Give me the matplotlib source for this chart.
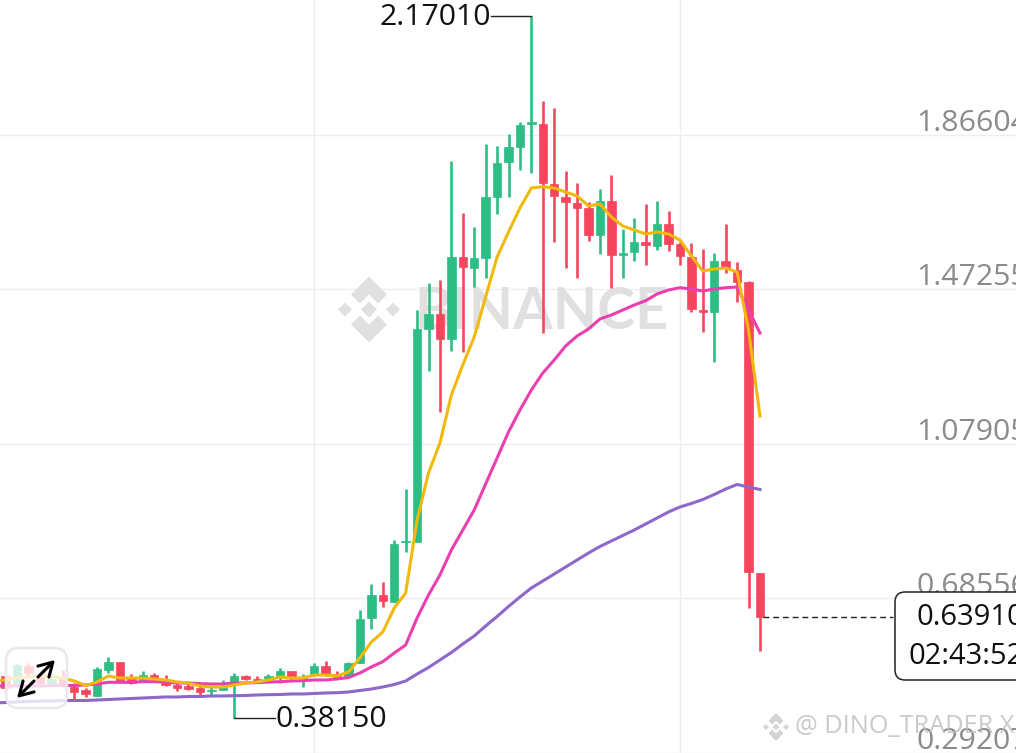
import matplotlib
matplotlib.use("Agg")
import matplotlib.pyplot as plt
from matplotlib.patches import FancyBboxPatch, Polygon
from matplotlib.transforms import Affine2D

# ---- data ----
opens = [.498,.4881,.4652,.5136,.4856,.4703,.4856,.4601,.4525,.4372,.5034,.5238,.4856,.4754,.4907,.4780,.4652,.4627,.4576,.4500,.4525,
         .4729,.4881,.4805,.4805,.4881,.5009,.4805,.4907,.5136,.4932,.4881,.5212,.6359,.6945,.6766,.8282,.8294,1.3720,1.4102,1.3465,1.5553,
         1.5273,1.5528,1.7081,1.7973,1.8355,1.8941,1.8941,1.7413,1.7081,1.6929,1.6801,1.6114,1.6980,1.5604,1.5681,1.5935,1.5833,1.6394,
         1.5884,1.5553,1.4203,1.4152,1.5451,1.5222,1.4917,.7505]
highs = [.50,.4881,.5187,.5212,.4983,.4907,.5034,.4703,.4576,.5111,.5365,.5250,.4932,.5009,.4958,.4907,.4703,.4678,.4627,.4627,.4780,
         .4958,.4907,.4881,.4932,.5085,.5009,.4932,.5212,.5263,.5009,.5238,.6562,.7225,.7276,.8345,.9644,1.4203,1.4891,1.4967,1.8000,1.6674,
         1.6317,1.8431,1.8380,1.8686,1.8992,2.1701,1.9527,1.9348,1.7744,1.7438,1.6954,1.7285,1.7642,1.6266,1.6547,1.6903,1.6980,1.6725,
         1.5935,1.5910,1.5757,1.5655,1.6394,1.5426,1.4942,.7505]
lows = [.47,.4525,.4627,.4907,.4678,.4678,.4601,.4296,.4347,.4372,.4958,.4729,.4678,.4729,.4729,.4627,.4500,.4525,.4372,.4372,.4525,
        .3815,.4780,.4703,.4703,.4703,.4780,.4601,.4881,.4881,.4856,.4856,.5212,.6079,.6638,.6766,.8039,.8294,1.2650,1.1606,1.3159,1.3134,
        1.4789,1.5018,1.6648,1.7081,1.7769,1.7693,1.3618,1.5935,1.5273,1.5018,1.5961,1.5630,1.4764,1.5018,1.5451,1.5350,1.5732,1.5706,
        1.5350,1.4152,1.3643,1.2879,1.5146,1.4407,.6613,.5518]
closes = [.478,.4576,.5161,.4958,.4703,.4805,.4627,.4474,.4423,.5060,.5238,.4729,.4703,.4907,.4780,.4652,.4576,.4550,.4474,.4525,.4627,
          .4881,.4805,.4754,.4881,.5009,.4830,.4856,.5136,.4932,.4856,.5212,.6333,.6945,.6792,.8243,.8320,1.3720,1.4102,1.3465,1.5553,1.5298,
          1.5528,1.7081,1.7947,1.8355,1.8915,1.8992,1.7438,1.7107,1.6954,1.6801,1.6114,1.6980,1.5604,1.5655,1.5935,1.5859,1.6394,1.5884,
          1.5579,1.4229,1.4152,1.5451,1.5273,1.4917,.7530,.6391]
ma_fast = [.4754,.4780,.4830,.4856,.4881,.4881,.4830,.4754,.4640,.4729,.4881,.4830,.4830,.4830,.4805,.4780,.4729,.4703,.4627,.4601,.4601,
           .4652,.4703,.4729,.4780,.4856,.4830,.4830,.4907,.4907,.4881,.4983,.5340,.5747,.6002,.6613,.6995,.8855,1.0052,1.0816,1.2039,1.2803,
           1.3516,1.4535,1.5553,1.6190,1.6801,1.7311,1.7344,1.7311,1.7209,1.7107,1.6852,1.6903,1.6572,1.6343,1.6241,1.6139,1.6190,1.6139,
           1.5986,1.5579,1.5197,1.5248,1.5273,1.5171,1.3694,1.1504]
ma_mid = [.4627,.4627,.4627,.4627,.4627,.4640,.4640,.4640,.4652,.4678,.4721,.4721,.4721,.4736,.4736,.4721,.4703,.4703,.4686,.4678,.4678,
          .4703,.4703,.4711,.4729,.4736,.4754,.4762,.4780,.4780,.4805,.4843,.4958,.5111,.5246,.5467,.5671,.6359,.6945,.7454,.8091,.8600,
          .9110,.9772,1.0434,1.1096,1.1657,1.2166,1.2599,1.2930,1.3287,1.3541,1.3720,1.3974,1.4076,1.4203,1.4331,1.4440,1.4611,1.4713,
          1.4771,1.4738,1.4687,1.4738,1.4771,1.4789,1.4203,1.3618]
ma_slow = [.4194,.4206,.4219,.4232,.4245,.4245,.4257,.4257,.4257,.4270,.4283,.4296,.4308,.4321,.4334,.4347,.4347,.4359,.4359,.4372,.4372,
           .4380,.4385,.4398,.4405,.4410,.4423,.4423,.4436,.4449,.4456,.4474,.4512,.4550,.4601,.4665,.4754,.4932,.5098,.5289,.5480,.5697,
           .5901,.6155,.6397,.6652,.6894,.7123,.7301,.7479,.7658,.7836,.8014,.8180,.8320,.8460,.8600,.8753,.8906,.9059,
           .9186,.9275,.9377,.9504,.9644,.9759,.9695,.9632]
y_ticks = [0.29207, 0.68556, 1.07905, 1.47255, 1.86604]
y_labels = ["0.29207", "0.68556", "1.07905", "1.47255", "1.86604"]
x_grid = [28, 60]
peak_label = "2.17010"
trough_label = "0.38150"
last_label = "0.63910"
countdown = "02:43:52"
credit = "@ DINO_TRADER X"

GREEN, RED = "#2EBD85", "#F6465D"
FONT = "Open Sans"
W, H = 1016, 753

fig = plt.figure(figsize=(W/100, H/100), dpi=100, facecolor="white")
ax = fig.add_axes([0, 0, 1, 1])
ax.set_xlim(0.51, 89.4)
ax.set_ylim(0.2920, 2.2099)
for s in ax.spines.values():
    s.set_visible(False)
px = Affine2D().scale(1/W, -1/H).translate(0, 1) + fig.transFigure

ax.set_xticks(x_grid, [""] * len(x_grid))
ax.set_yticks(y_ticks, y_labels)
ax.grid(True, color="#eeeeee", lw=1.0, zorder=0)
ax.set_axisbelow(True)
ax.tick_params(axis="both", length=0)
ax.tick_params(axis="y", pad=-660.0, labelsize=21.8, labelcolor="#8b8b8b")
for t in ax.get_yticklabels():
    t.set_fontfamily(FONT)
    t.set_ha("left")
    t.set_va("bottom")
    t.set_zorder(3)
    t.set_transform(t.get_transform() + Affine2D().translate(0, -3))

# Exchange watermark (under candles)
wm = "#e0e0e0"
def diamond(cx, cy, r, color, tr, z):
    ax.add_patch(Polygon([(cx, cy-r), (cx+r, cy), (cx, cy+r), (cx-r, cy)], closed=True, fc=color, ec="none",
                         transform=tr, zorder=z, clip_on=False))
def logo(cx, cy, s, color, z):
    diamond(cx, cy, 8*s, color, px, z)
    diamond(cx-24*s, cy, 7*s, color, px, z)
    diamond(cx+24*s, cy, 7*s, color, px, z)
    for sgn in (-1, 1):
        ax.add_patch(Polygon([(cx, cy+sgn*33*s), (cx+18*s, cy+sgn*15*s), (cx+9*s, cy+sgn*6*s), (cx, cy+sgn*15*s),
                              (cx-9*s, cy+sgn*6*s), (cx-18*s, cy+sgn*15*s)], closed=True, fc=color, ec="none",
                             transform=px, zorder=z, clip_on=False))
logo(369, 309.5, 1.0, wm, 1)
ax.text(414, 313, "BINANCE", transform=px, fontsize=41.3, fontweight="bold", family="Lato", color=wm,
        ha="left", va="center", zorder=1)

# Candles
idx = list(range(len(opens)))
for i in idx:
    o, h, l, c = opens[i], highs[i], lows[i], closes[i]
    col = GREEN if c >= o else RED
    ax.vlines(i, l, h, color=col, lw=1.9, zorder=4)
    ax.bar(i, abs(c-o), bottom=min(o, c), width=0.74, color=col, edgecolor=col, lw=0.5, zorder=4)

# Moving averages
ax.plot(idx, ma_slow, color="#8E67CB", lw=2.2, zorder=5, solid_joinstyle="round")
ax.plot(idx, ma_mid, color="#EB3FB0", lw=2.2, zorder=6, solid_joinstyle="round")
ax.plot(idx, ma_fast, color="#F0B90B", lw=2.2, zorder=7, solid_joinstyle="round")

# High / low callouts
LEAD = 3.55  # leader length in candle widths
hi_i = highs.index(max(highs))
lo_i = lows.index(min(lows))
ax.plot([hi_i - LEAD, hi_i], [max(highs)] * 2, color="#222222", lw=1.0, zorder=9)
ax.plot([lo_i, lo_i + LEAD], [min(lows)] * 2, color="#222222", lw=1.0, zorder=9)
ax.annotate(peak_label, xy=(hi_i - LEAD, max(highs)), xytext=(0, -2), textcoords="offset pixels", ha="right", va="center",
            fontsize=21.8, family=FONT, color="#111111", zorder=9)
ax.annotate(trough_label, xy=(lo_i + LEAD, min(lows)), xytext=(1, -2), textcoords="offset pixels", ha="left", va="center",
            fontsize=21.8, family=FONT, color="#111111", zorder=9)

# Last-price dashed line and box
ax.plot([idx[-1] + 0.3, idx[-1] + 11.6], [closes[-1]] * 2, color="#222222", lw=1.0, dashes=(4.2, 2.8), zorder=8)
ax.add_patch(FancyBboxPatch((895, 592), 200, 88, boxstyle="round,pad=0,rounding_size=10",
                            fc="white", ec="#222222", lw=1.1, transform=px, zorder=8))
ax.text(917, 618, last_label, transform=px, fontsize=21, family=FONT, color="#111111", ha="left", va="center", zorder=9)
ax.text(909, 657, countdown, transform=px, fontsize=21, family=FONT, color="#111111", ha="left", va="center", zorder=9)

# Expand button
ax.add_patch(FancyBboxPatch((6, 648), 61, 60, boxstyle="round,pad=0,rounding_size=13", fc=(1, 1, 1, 0.78),
                            ec="#e8e8e8", lw=1.8, transform=px, zorder=10))
for a, b in (((38, 677), (55, 660)), ((34, 681), (17, 698))):
    ax.annotate("", xy=b, xytext=a, xycoords=px, textcoords=px, zorder=11,
                arrowprops=dict(arrowstyle="->,head_length=0.6,head_width=0.35", color="black", lw=2.2,
                                mutation_scale=16, shrinkA=0, shrinkB=0))

# Author watermark
logo(776, 727, 0.42, "#d4d4d4", 12)
ax.text(795, 727, credit, transform=px, fontsize=18.2, family=FONT, color="#bdbdbd", alpha=0.8,
        ha="left", va="center", zorder=12)

fig.savefig("out.png", dpi=100)
